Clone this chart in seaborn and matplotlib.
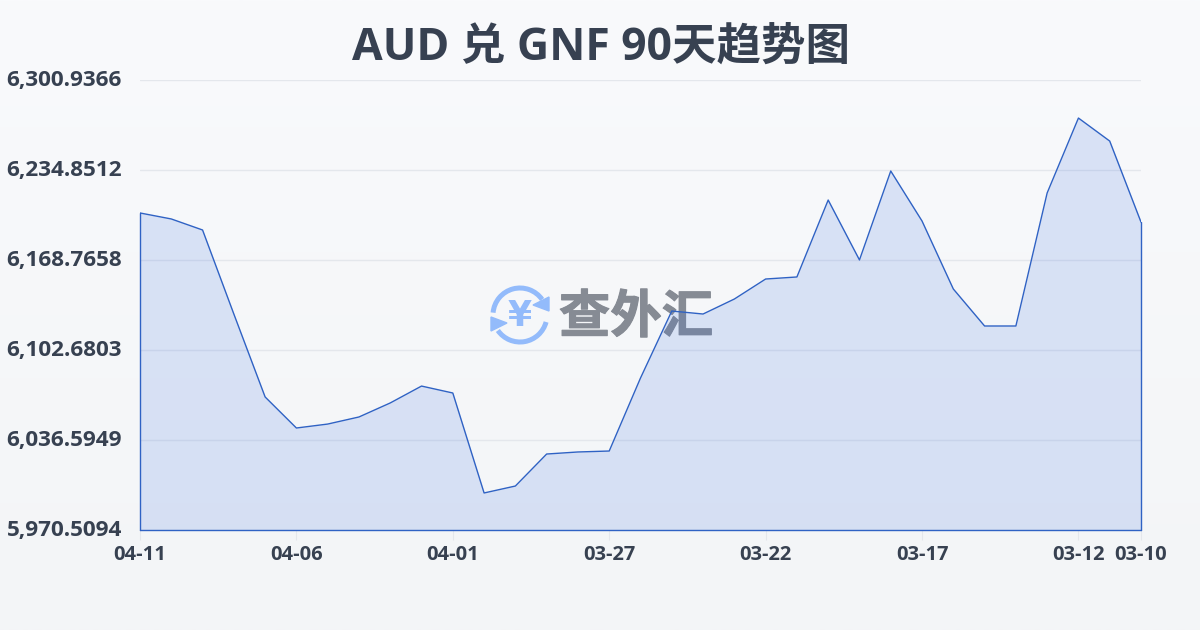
import numpy as np
import pandas as pd
import seaborn as sns
import matplotlib.pyplot as plt
import matplotlib.patheffects as pe
from matplotlib.patches import Arc, Polygon
from matplotlib.transforms import ScaledTranslation

# values, newest day first
dates = ['04-11', '04-10', '04-09', '04-08', '04-07', '04-06', '04-05', '04-04', '04-03',
         '04-02', '04-01', '03-31', '03-30', '03-29', '03-28', '03-27', '03-26', '03-25',
         '03-24', '03-23', '03-22', '03-21', '03-20', '03-19', '03-18', '03-17', '03-16',
         '03-15', '03-14', '03-13', '03-12', '03-11', '03-10']
rates = [6203.3, 6198.9, 6190.8, 6129.1, 6068.2, 6045.4, 6048.3, 6053.5, 6063.8,
         6076.2, 6071.1, 5997.7, 6002.8, 6026.3, 6027.8, 6028.5, 6082.1, 6131.3,
         6129.1, 6140.1, 6154.8, 6156.3, 6212.8, 6168.8, 6234.1, 6197.4, 6147.5,
         6120.3, 6120.3, 6218.0, 6273.0, 6256.1, 6196.6]
y_ticks = [5970.5094, 6036.5949, 6102.6803, 6168.7658, 6234.8512, 6300.9366]
x_labels = ['04-11', '04-06', '04-01', '03-27', '03-22', '03-17', '03-12', '03-10']
title = 'AUD 兑 GNF 90天趋势图'

TEXT = '#374151'
LINE = '#2f62c4'
GRID = '#e4e7ec'
FONTS = ['Open Sans', 'Noto Sans CJK SC', 'DejaVu Sans']


def draw_background(fig):
    bg = fig.add_axes([0, 0, 1, 1], zorder=-1)
    grad = np.linspace(0, 1, 256).reshape(-1, 1)
    top = np.array([249, 250, 252]) / 255
    bottom = np.array([243, 245, 247]) / 255
    bg.imshow(top + (bottom - top) * grad[..., None], aspect='auto', extent=[0, 1, 0, 1])
    bg.axis('off')


def draw_watermark(fig):
    # logo is placed in figure pixels, so a full-size overlay axes is easiest
    wm = fig.add_axes([0, 0, 1, 1], zorder=0)
    wm.set_xlim(0, 1200)
    wm.set_ylim(630, 0)
    wm.axis('off')
    blue = '#93bbfb'
    cx, cy = 520, 315
    wm.add_patch(Arc((cx, cy), 54, 54, theta1=185, theta2=325, lw=3.6, color=blue))
    wm.add_patch(Arc((cx, cy), 54, 54, theta1=15, theta2=145, lw=3.6, color=blue))
    wm.add_patch(Polygon([[549, 297], [549, 311], [533, 305]], color=blue))
    wm.add_patch(Polygon([[491, 317], [491, 331], [507, 323]], color=blue))
    wm.text(cx, cy + 1, '¥', ha='center', va='center', fontsize=25, fontweight='bold',
            color=blue, family='DejaVu Sans')
    mark = wm.text(636, 317, '查外汇', ha='center', va='center', fontsize=37, fontweight='bold',
                   color='#868b94', family=['Noto Sans CJK SC', 'DejaVu Sans'])
    mark.set_path_effects([pe.withStroke(linewidth=0.8, foreground='#868b94')])


def main():
    sns.set_theme(style='white')
    plt.rcParams['font.family'] = FONTS

    df = pd.DataFrame({'pos': range(len(dates)), 'date': dates, 'rate': rates})

    fig = plt.figure(figsize=(12, 6.3), dpi=100)
    draw_background(fig)
    draw_watermark(fig)

    ax = fig.add_axes([140 / 1200, 1 - 530 / 630, 1001 / 1200, 450 / 630], zorder=1)
    ax.patch.set_alpha(0)
    ax.set_xlim(0, len(dates) - 1)
    ax.set_ylim(y_ticks[0], y_ticks[-1])

    ax.fill_between(df['pos'], df['rate'], y_ticks[0], color='#3b6fe0', alpha=0.16, lw=0, zorder=2)
    sns.lineplot(data=df, x='pos', y='rate', color=LINE, lw=1, ax=ax, zorder=3)
    # the area outline closes down both sides and along the bottom
    ax.plot([0, 0], [y_ticks[0], rates[0]], color=LINE, lw=1, zorder=3, clip_on=False)
    ax.plot([len(dates) - 1] * 2, [y_ticks[0], rates[-1]], color=LINE, lw=1, zorder=3, clip_on=False)
    ax.plot([0, len(dates) - 1], [y_ticks[0]] * 2, color=LINE, lw=1, zorder=3, clip_on=False)

    ax.set_yticks(y_ticks)
    ax.set_yticklabels([f'{v:,.4f}' for v in y_ticks], fontsize=16.2, fontweight='bold', color=TEXT)
    ax.tick_params(axis='y', length=0, pad=13)
    # tick_params resets label transforms, so the nudge has to come after it
    shift = ScaledTranslation(0, 2 / 100, fig.dpi_scale_trans)
    for lab in ax.get_yticklabels():
        lab.set_transform(lab.get_transform() + shift)
    ax.grid(axis='y', color=GRID, lw=1, zorder=1)
    ax.set_axisbelow(True)

    ax.set_xticks([dates.index(d) for d in x_labels])
    ax.set_xticklabels(x_labels, fontsize=14.5, fontweight='bold', color=TEXT)
    ax.tick_params(axis='x', length=7, width=0.8, color=GRID, pad=4, bottom=True)
    ax.set_xlabel('')
    ax.set_ylabel('')
    sns.despine(ax=ax, left=True, bottom=True, right=True, top=True)

    fig.text(601 / 1200, 1 - 48 / 630, title, ha='center', va='center', fontsize=32,
             fontweight='bold', color=TEXT)

    fig.savefig('out.png', dpi=100)
    plt.close(fig)


if __name__ == "__main__":
    main()
